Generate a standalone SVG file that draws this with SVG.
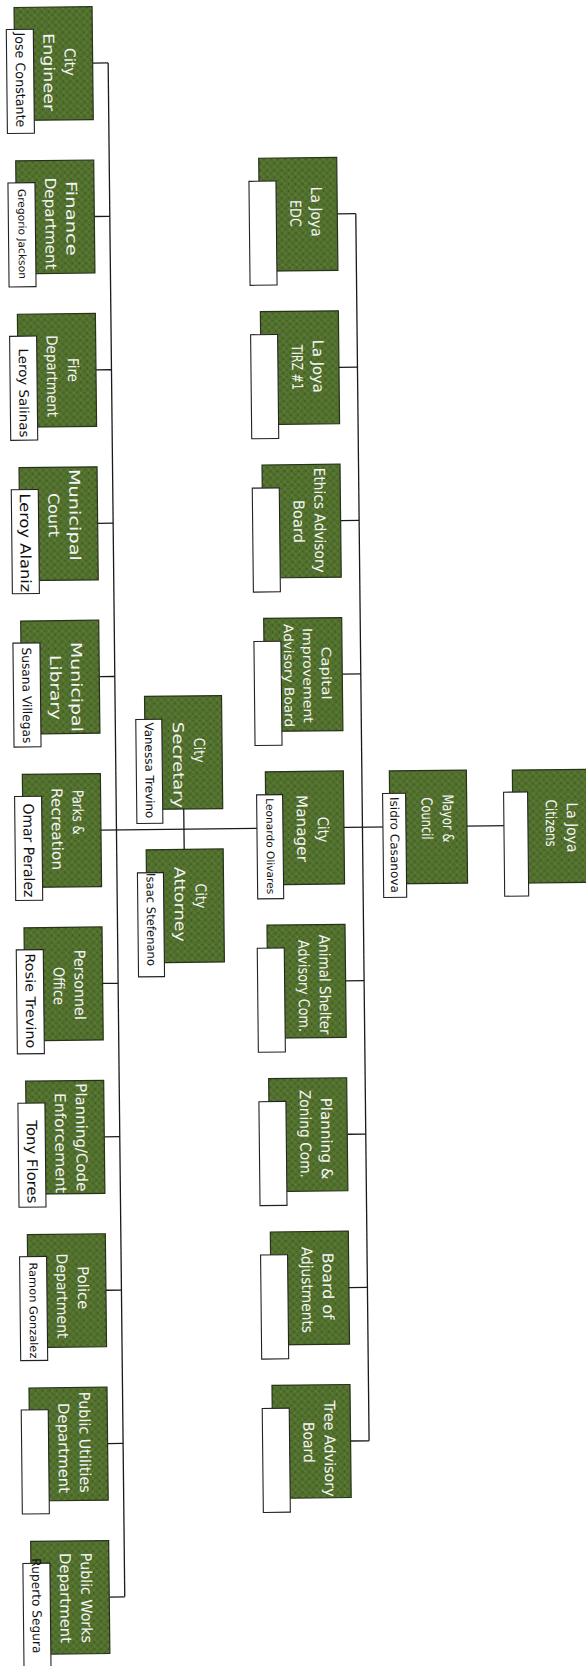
<svg xmlns="http://www.w3.org/2000/svg" width="586" height="1666" viewBox="0 0 586 1666">
<defs>
<pattern id="moss" width="7" height="7" patternUnits="userSpaceOnUse">
<rect width="7" height="7" fill="#51702d"/>
<circle cx="1.5" cy="2" r="0.8" fill="#34481c"/>
<circle cx="5" cy="5.5" r="0.7" fill="#3a4f20"/>
<circle cx="4.5" cy="1.5" r="1" fill="#5f7d36"/>
<circle cx="1.8" cy="5.6" r="0.9" fill="#67843a"/>
</pattern>
</defs>
<style>
.g{fill:url(#moss);stroke:#26331a;stroke-width:1.2}
.w{fill:#fff;stroke:#222;stroke-width:1.1}
.t{font-family:'DejaVu Sans',sans-serif;font-size:15px;fill:#f4f4f4;text-anchor:middle}
.t3{font-size:13px}
.l{font-family:'DejaVu Sans',sans-serif;font-size:13px;fill:#111;text-anchor:middle}
.c{stroke:#1a1a1a;stroke-width:1.3;fill:none}
</style>
<rect width="586" height="1666" fill="#fff"/>
<g transform="rotate(-0.62 293 833)">
<g id="connectors" class="c">
<path d="M116.5,61V1595"/>
<path d="M101,61H116.5M101,214.4H116.5M101,367.8H116.5M101,521.2H116.5M101,674.6H116.5M101,981.4H116.5M101,1134.8H116.5M101,1288.2H116.5M101,1441.6H116.5M101,1595H116.5"/>
<path d="M101,828H513"/>
<path d="M184,807.8V848.2"/>
<path d="M362.5,214.4V1441.6"/>
<path d="M344,214.4H362.5M344,367.8H362.5M344,521.2H362.5M344,674.6H362.5M344,981.4H362.5M344,1134.8H362.5M344,1288.2H362.5M344,1441.6H362.5"/>
</g>

<g id="city-engineer">
<rect class="g" x="23" y="4.5" width="78" height="113"/>
<rect class="w" x="15" y="26.5" width="27" height="104"/>
<text class="t" transform="translate(73 59.5) rotate(90)" textLength="28" lengthAdjust="spacingAndGlyphs">City</text>
<text class="t" transform="translate(52 69.5) rotate(90)" textLength="78" lengthAdjust="spacingAndGlyphs">Engineer</text>
<text class="l" transform="translate(24 77) rotate(90)" textLength="95" lengthAdjust="spacingAndGlyphs">Jose Constante</text>
</g>
<g id="finance">
<rect class="g" x="23" y="157.9" width="78" height="113"/>
<rect class="w" x="15" y="179.9" width="27" height="104"/>
<text class="t" transform="translate(73 216) rotate(90)" textLength="75" lengthAdjust="spacingAndGlyphs">Finance</text>
<text class="t" transform="translate(52 221) rotate(90)" textLength="92" lengthAdjust="spacingAndGlyphs">Department</text>
<text class="l" style="font-size:10.5px" transform="translate(25 231) rotate(90)" textLength="90" lengthAdjust="spacingAndGlyphs">Gregorio Jackson</text>
</g>
<g id="fire">
<rect class="g" x="23" y="311.3" width="78" height="113"/>
<rect class="w" x="15" y="333.3" width="27" height="104"/>
<text class="t" transform="translate(73 367.5) rotate(90)" textLength="24" lengthAdjust="spacingAndGlyphs">Fire</text>
<text class="t" transform="translate(52 373.5) rotate(90)" textLength="82" lengthAdjust="spacingAndGlyphs">Department</text>
<text class="l" transform="translate(24 390) rotate(90)" textLength="89" lengthAdjust="spacingAndGlyphs">Leroy Salinas</text>
</g>
<g id="municipal-court">
<rect class="g" x="23" y="464.7" width="78" height="113"/>
<rect class="w" x="15" y="486.7" width="27" height="104"/>
<text class="t" transform="translate(73 512.5) rotate(90)" textLength="92" lengthAdjust="spacingAndGlyphs">Municipal</text>
<text class="t" transform="translate(52 512.5) rotate(90)" textLength="44" lengthAdjust="spacingAndGlyphs">Court</text>
<text class="l" style="font-size:14.5px" transform="translate(23.5 540) rotate(90)" textLength="99" lengthAdjust="spacingAndGlyphs">Leroy Alaniz</text>
</g>
<g id="municipal-library">
<rect class="g" x="23" y="618.1" width="78" height="113"/>
<rect class="w" x="15" y="640.1" width="27" height="104"/>
<text class="t" transform="translate(73 684.5) rotate(90)" textLength="90" lengthAdjust="spacingAndGlyphs">Municipal</text>
<text class="t" transform="translate(52 685) rotate(90)" textLength="65" lengthAdjust="spacingAndGlyphs">Library</text>
<text class="l" style="font-size:12.5px" transform="translate(24 692.5) rotate(90)" textLength="96" lengthAdjust="spacingAndGlyphs">Susana Villegas</text>
</g>
<g id="parks-recreation">
<rect class="g" x="23" y="771.5" width="78" height="113"/>
<rect class="w" x="15" y="793.5" width="27" height="104"/>
<text class="t" transform="translate(73 810) rotate(90)" textLength="45" lengthAdjust="spacingAndGlyphs">Parks &amp;</text>
<text class="t" transform="translate(52 826.5) rotate(90)" textLength="82" lengthAdjust="spacingAndGlyphs">Recreation</text>
<text class="l" style="font-size:14.5px" transform="translate(23.5 847.5) rotate(90)" textLength="94" lengthAdjust="spacingAndGlyphs">Omar Peralez</text>
</g>
<g id="personnel">
<rect class="g" x="23" y="924.9" width="78" height="113"/>
<rect class="w" x="15" y="946.9" width="27" height="104"/>
<text class="t" transform="translate(73 982.5) rotate(90)" textLength="70" lengthAdjust="spacingAndGlyphs">Personnel</text>
<text class="t" transform="translate(52 983.5) rotate(90)" textLength="38" lengthAdjust="spacingAndGlyphs">Office</text>
<text class="l" style="font-size:13.5px" transform="translate(24 998) rotate(90)" textLength="95" lengthAdjust="spacingAndGlyphs">Rosie Trevino</text>
</g>
<g id="planning-code">
<rect class="g" x="23" y="1078.3" width="78" height="113"/>
<rect class="w" x="15" y="1100.3" width="27" height="104"/>
<text class="t" transform="translate(73 1135) rotate(90)" textLength="108" lengthAdjust="spacingAndGlyphs">Planning/Code</text>
<text class="t" transform="translate(52 1140.5) rotate(90)" textLength="100" lengthAdjust="spacingAndGlyphs">Enforcement</text>
<text class="l" style="font-size:14.5px" transform="translate(23.5 1159) rotate(90)" textLength="83" lengthAdjust="spacingAndGlyphs">Tony Flores</text>
</g>
<g id="police">
<rect class="g" x="23" y="1231.7" width="78" height="113"/>
<rect class="w" x="15" y="1253.7" width="27" height="104"/>
<text class="t" transform="translate(73 1285.5) rotate(90)" textLength="43" lengthAdjust="spacingAndGlyphs">Police</text>
<text class="t" transform="translate(52 1293.5) rotate(90)" textLength="85" lengthAdjust="spacingAndGlyphs">Department</text>
<text class="l" style="font-size:11px" transform="translate(24.5 1307.5) rotate(90)" textLength="96" lengthAdjust="spacingAndGlyphs">Ramon Gonzalez</text>
</g>
<g id="public-utilities">
<rect class="g" x="23" y="1385.1" width="78" height="113"/>
<rect class="w" x="15" y="1407.1" width="27" height="104"/>
<text class="t" transform="translate(73 1440) rotate(90)" textLength="101" lengthAdjust="spacingAndGlyphs">Public Utilities</text>
<text class="t" transform="translate(52 1445.5) rotate(90)" textLength="90" lengthAdjust="spacingAndGlyphs">Department</text>
</g>
<g id="public-works">
<rect class="g" x="23" y="1538.5" width="78" height="113"/>
<rect class="w" x="15" y="1560.5" width="27" height="104"/>
<text class="t" transform="translate(73 1595.5) rotate(90)" textLength="90" lengthAdjust="spacingAndGlyphs">Public Works</text>
<text class="t" transform="translate(52 1595.5) rotate(90)" textLength="90" lengthAdjust="spacingAndGlyphs">Department</text>
<text class="l" style="font-size:12.5px" transform="translate(24 1603) rotate(90)" textLength="95" lengthAdjust="spacingAndGlyphs">Ruperto Segura</text>
</g>

<g id="city-secretary">
<rect class="g" x="146" y="694.8" width="77" height="113"/>
<rect class="w" x="137" y="717.8" width="26" height="104"/>
<text class="t" transform="translate(195 749.3) rotate(90)" textLength="25" lengthAdjust="spacingAndGlyphs">City</text>
<text class="t" transform="translate(174 763.8) rotate(90)" textLength="86" lengthAdjust="spacingAndGlyphs">Secretary</text>
<text class="l" style="font-size:12px" transform="translate(146 768.8) rotate(90)" textLength="96" lengthAdjust="spacingAndGlyphs">Vanessa Trevino</text>
</g>
<g id="city-attorney">
<rect class="g" x="146" y="848.2" width="77" height="113"/>
<rect class="w" x="137" y="871.2" width="26" height="104"/>
<text class="t" transform="translate(195 895) rotate(90)" textLength="25" lengthAdjust="spacingAndGlyphs">City</text>
<text class="t" transform="translate(174 903) rotate(90)" textLength="75" lengthAdjust="spacingAndGlyphs">Attorney</text>
<text class="l" style="font-size:12px" transform="translate(146 918) rotate(90)" textLength="93" lengthAdjust="spacingAndGlyphs">Isaac Stefenano</text>
</g>

<g id="la-joya-edc">
<rect class="g" x="266" y="157.9" width="78" height="113"/>
<rect class="w" x="256" y="180.9" width="27" height="104"/>
<text class="t" transform="translate(318 212) rotate(90)" textLength="50" lengthAdjust="spacingAndGlyphs">La Joya</text>
<text class="t" transform="translate(297 213.5) rotate(90)" textLength="27" lengthAdjust="spacingAndGlyphs">EDC</text>
</g>
<g id="la-joya-tirz">
<rect class="g" x="266" y="311.3" width="78" height="113"/>
<rect class="w" x="256" y="334.3" width="27" height="104"/>
<text class="t" transform="translate(318 366.5) rotate(90)" textLength="53" lengthAdjust="spacingAndGlyphs">La Joya</text>
<text class="t" transform="translate(297 367.5) rotate(90)" textLength="45" lengthAdjust="spacingAndGlyphs">TIRZ #1</text>
</g>
<g id="ethics">
<rect class="g" x="266" y="464.7" width="78" height="113"/>
<rect class="w" x="256" y="487.7" width="27" height="104"/>
<text class="t" transform="translate(318 520.5) rotate(90)" textLength="105" lengthAdjust="spacingAndGlyphs">Ethics Advisory</text>
<text class="t" transform="translate(297 521.5) rotate(90)" textLength="43" lengthAdjust="spacingAndGlyphs">Board</text>
</g>
<g id="capital-improvement">
<rect class="g" x="266" y="618.1" width="78" height="113"/>
<rect class="w" x="256" y="641.1" width="27" height="104"/>
<text class="t t3" transform="translate(323.5 673.5) rotate(90)" textLength="53" lengthAdjust="spacingAndGlyphs">Capital</text>
<text class="t t3" transform="translate(305 675.5) rotate(90)" textLength="95" lengthAdjust="spacingAndGlyphs">Improvement</text>
<text class="t t3" transform="translate(286 675.5) rotate(90)" textLength="103" lengthAdjust="spacingAndGlyphs">Advisory Board</text>
</g>
<g id="city-manager">
<rect class="g" x="266" y="771.5" width="78" height="113"/>
<rect class="w" x="257" y="794.5" width="26" height="104"/>
<text class="t" transform="translate(318 830) rotate(90)" textLength="26" lengthAdjust="spacingAndGlyphs">City</text>
<text class="t" transform="translate(297 828.5) rotate(90)" textLength="67" lengthAdjust="spacingAndGlyphs">Manager</text>
<text class="l" style="font-size:10.5px" transform="translate(266.5 846) rotate(90)" textLength="96" lengthAdjust="spacingAndGlyphs">Leonardo Olivares</text>
</g>
<g id="animal-shelter">
<rect class="g" x="266" y="924.9" width="78" height="113"/>
<rect class="w" x="256" y="947.9" width="27" height="104"/>
<text class="t" transform="translate(318 985) rotate(90)" textLength="100" lengthAdjust="spacingAndGlyphs">Animal Shelter</text>
<text class="t" transform="translate(297 986) rotate(90)" textLength="92" lengthAdjust="spacingAndGlyphs">Advisory Com.</text>
</g>
<g id="planning-zoning">
<rect class="g" x="266" y="1078.3" width="78" height="113"/>
<rect class="w" x="256" y="1101.3" width="27" height="104"/>
<text class="t" transform="translate(318 1139) rotate(90)" textLength="82" lengthAdjust="spacingAndGlyphs">Planning &amp;</text>
<text class="t" transform="translate(297 1134) rotate(90)" textLength="88" lengthAdjust="spacingAndGlyphs">Zoning Com.</text>
</g>
<g id="board-adjustments">
<rect class="g" x="266" y="1231.7" width="78" height="113"/>
<rect class="w" x="256" y="1254.7" width="27" height="104"/>
<text class="t" transform="translate(318 1286.5) rotate(90)" textLength="67" lengthAdjust="spacingAndGlyphs">Board of</text>
<text class="t" transform="translate(297 1290) rotate(90)" textLength="86" lengthAdjust="spacingAndGlyphs">Adjustments</text>
</g>
<g id="tree-advisory">
<rect class="g" x="266" y="1385.1" width="78" height="113"/>
<rect class="w" x="256" y="1408.1" width="27" height="104"/>
<text class="t" transform="translate(318 1449) rotate(90)" textLength="96" lengthAdjust="spacingAndGlyphs">Tree Advisory</text>
<text class="t" transform="translate(297 1442.5) rotate(90)" textLength="41" lengthAdjust="spacingAndGlyphs">Board</text>
</g>

<g id="mayor-council">
<rect class="g" x="390" y="772" width="77" height="113"/>
<rect class="w" x="383" y="794.5" width="23" height="104"/>
<text class="t" transform="translate(443 820) rotate(90)" textLength="48" lengthAdjust="spacingAndGlyphs">Mayor &amp;</text>
<text class="t" transform="translate(422 820) rotate(90)" textLength="42" lengthAdjust="spacingAndGlyphs">Council</text>
<text class="l" style="font-size:12px" transform="translate(390.5 846) rotate(90)" textLength="96" lengthAdjust="spacingAndGlyphs">Isidro Casanova</text>
</g>
<g id="la-joya-citizens">
<rect class="g" x="513" y="772.5" width="78" height="113"/>
<rect class="w" x="504" y="794.5" width="24" height="104"/>
<text class="t" transform="translate(567 830.5) rotate(90)" textLength="50" lengthAdjust="spacingAndGlyphs">La Joya</text>
<text class="t" transform="translate(546 826) rotate(90)" textLength="47" lengthAdjust="spacingAndGlyphs">Citizens</text>
</g>
</g>
</svg>
